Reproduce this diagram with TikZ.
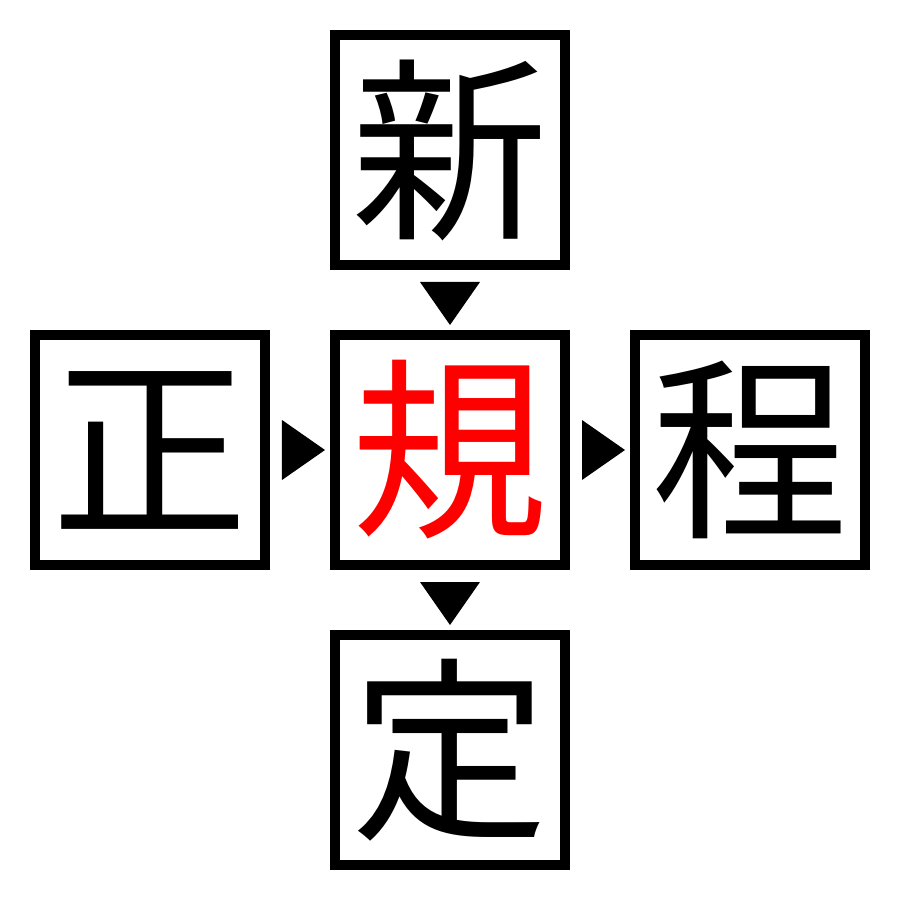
\documentclass[tikz,border=0pt]{standalone}
\usepackage{fontspec}
\newfontfamily\cjk{Noto Sans CJK JP}
\usetikzlibrary{positioning,calc}

\begin{document}
\begin{tikzpicture}[x=1mm,y=1mm,node distance=6mm,
  kbox/.style={draw,line width=1mm,minimum size=23mm,inner sep=0pt,
    font=\cjk\fontsize{56}{56}\selectfont}]
\useasboundingbox (0,0) rectangle (90,90);
% centre and its neighbours
\node[kbox,text=red] (gui) at (45,45) {規};
\node[kbox,above=of gui] (xin) {新};
\node[kbox,below=of gui] (ding) {定};
\node[kbox,left=of gui] (zheng) {正};
\node[kbox,right=of gui] (cheng) {程};

% pointers
\fill ($(xin.south)!0.5!(gui.north)$) ++(-3,1.8) -- ++(6,0) -- ++(-3,-4.3) -- cycle;
\fill ($(gui.south)!0.5!(ding.north)$) ++(-3,1.8) -- ++(6,0) -- ++(-3,-4.3) -- cycle;
\fill ($(zheng.east)!0.5!(gui.west)$) ++(-1.8,3) -- ++(4.3,-3) -- ++(-4.3,-3) -- cycle;
\fill ($(gui.east)!0.5!(cheng.west)$) ++(-1.8,3) -- ++(4.3,-3) -- ++(-4.3,-3) -- cycle;
\end{tikzpicture}
\end{document}
